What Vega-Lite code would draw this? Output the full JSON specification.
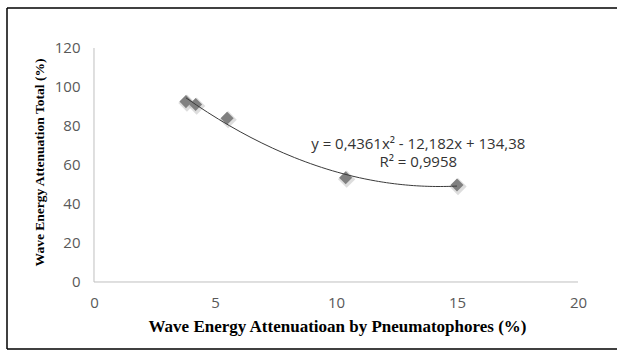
{
  "$schema": "https://vega.github.io/schema/vega-lite/v6.json",
  "autosize": {"type": "none"},
  "padding": {"left": 7, "top": 8, "right": 0, "bottom": 1},
  "width": 610,
  "height": 341,
  "background": "white",
  "config": {
    "view": {"stroke": null},
    "axis": {"grid": false, "domain": false, "ticks": false, "labelFont": "Open Sans", "labelFontSize": 15, "labelColor": "#595959", "titleFont": "Liberation Serif", "titleFontWeight": "bold", "titleColor": "#000000"}
  },
  "datasets": {
    "pts": [
      {"pneu": 3.8, "total": 92.5},
      {"pneu": 4.2, "total": 91.0},
      {"pneu": 5.5, "total": 84.0},
      {"pneu": 10.4, "total": 53.5},
      {"pneu": 15.0, "total": 49.7}
    ],
    "eq": [
      {"pneu": 13.4, "total": 71.0, "label": "y = 0,4361x² - 12,182x + 134,38"},
      {"pneu": 13.4, "total": 61.3, "label": "R² = 0,9958"}
    ]
  },
  "layer": [
    {
      "data": {"values": [{}]},
      "mark": {"type": "rule", "color": "#000000", "strokeWidth": 1.5},
      "encoding": {"y": {"datum": 140.51, "type": "quantitative"}}
    },
    {
      "data": {"values": [{}]},
      "mark": {"type": "rule", "color": "#000000", "strokeWidth": 1.5},
      "encoding": {"y": {"datum": -34.36, "type": "quantitative"}}
    },
    {
      "data": {"values": [{}]},
      "mark": {"type": "rule", "color": "#000000", "strokeWidth": 1.5},
      "encoding": {"x": {"datum": -3.595, "type": "quantitative"}}
    },
    {
      "data": {"values": [{}]},
      "mark": {"type": "rule", "color": "#bfbfbf", "strokeWidth": 1},
      "encoding": {"x": {"datum": 0, "type": "quantitative"}, "x2": {"datum": 20}, "y": {"datum": 0, "type": "quantitative"}}
    },
    {
      "data": {"values": [{}]},
      "mark": {"type": "rule", "color": "#bfbfbf", "strokeWidth": 1},
      "encoding": {"x": {"datum": 0, "type": "quantitative"}, "y": {"datum": 0, "type": "quantitative"}, "y2": {"datum": 120}}
    },
    {
      "data": {"name": "pts"},
      "mark": {"type": "point", "shape": "diamond", "filled": true, "size": 300, "color": "#bbbbbb", "opacity": 0.5, "xOffset": 1, "yOffset": 1.5},
      "encoding": {
        "x": {"field": "pneu", "type": "quantitative"},
        "y": {"field": "total", "type": "quantitative"}
      }
    },
    {
      "data": {"name": "pts"},
      "mark": {"type": "point", "shape": "diamond", "filled": true, "size": 170, "color": "#808080", "opacity": 1},
      "encoding": {
        "x": {"field": "pneu", "type": "quantitative", "scale": {"domain": [-3.595, 21.612], "nice": false, "zero": false},
          "axis": {"values": [0, 5, 10, 15, 20], "offset": -67, "labelPadding": 13, "title": "Wave Energy Attenuatioan by Pneumatophores (%)", "titleFontSize": 17, "titleX": 330, "titlePadding": 8}},
        "y": {"field": "total", "type": "quantitative", "scale": {"domain": [-34.36, 140.51], "nice": false, "zero": false},
          "axis": {"values": [0, 20, 40, 60, 80, 100, 120], "offset": -87, "labelPadding": 14, "title": "Wave Energy Attenuation Total (%)", "titleFontSize": 13.5, "titleY": 154, "titlePadding": 8}}
      }
    },
    {
      "data": {"name": "pts"},
      "transform": [{"regression": "total", "on": "pneu", "method": "poly", "order": 2, "extent": [3.8, 15.0]}],
      "mark": {"type": "line", "color": "#3a3a3a", "strokeWidth": 1},
      "encoding": {
        "x": {"field": "pneu", "type": "quantitative"},
        "y": {"field": "total", "type": "quantitative"}
      }
    },
    {
      "data": {"name": "eq"},
      "mark": {"type": "text", "font": "Open Sans", "fontSize": 15, "color": "#333333", "align": "center", "baseline": "middle"},
      "encoding": {
        "x": {"field": "pneu", "type": "quantitative"},
        "y": {"field": "total", "type": "quantitative"},
        "text": {"field": "label"}
      }
    }
  ]
}
